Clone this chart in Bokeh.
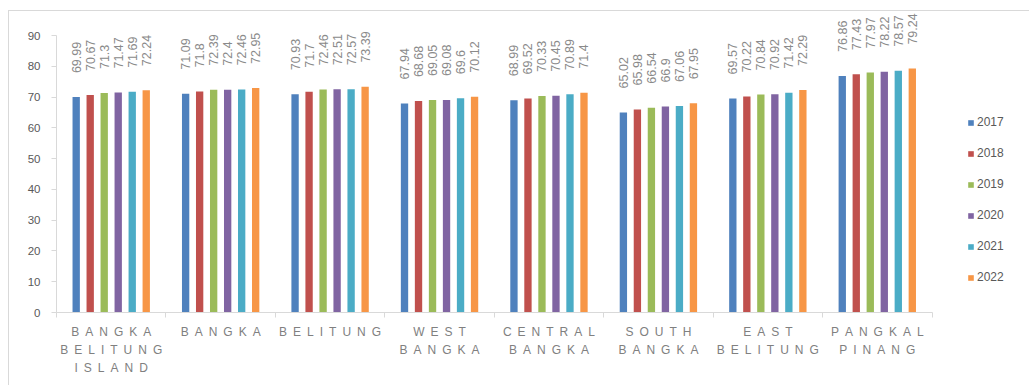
from bokeh.plotting import figure
from bokeh.models import ColumnDataSource, FixedTicker, Legend, LegendItem
from bokeh.transform import dodge
from bokeh.core.properties import value
from bokeh.embed import file_html
from bokeh.resources import INLINE
import math

categories = ["BANGKA\nBELITUNG\nISLAND", "BANGKA", "BELITUNG", "WEST\nBANGKA",
              "CENTRAL\nBANGKA", "SOUTH\nBANGKA", "EAST\nBELITUNG", "PANGKAL\nPINANG"]
years = ["2017", "2018", "2019", "2020", "2021", "2022"]
v2017 = [69.99, 71.09, 70.93, 67.94, 68.99, 65.02, 69.57, 76.86]
v2018 = [70.67, 71.8, 71.7, 68.68, 69.52, 65.98, 70.22, 77.43]
v2019 = [71.3, 72.39, 72.46, 69.05, 70.33, 66.54, 70.84, 77.97]
v2020 = [71.47, 72.4, 72.51, 69.08, 70.45, 66.9, 70.92, 78.22]
v2021 = [71.69, 72.46, 72.57, 69.6, 70.89, 67.06, 71.42, 78.57]
v2022 = [72.24, 72.95, 73.39, 70.12, 71.4, 67.95, 72.29, 79.24]
series = [v2017, v2018, v2019, v2020, v2021, v2022]
colors = ["#4F81BD", "#C0504D", "#9BBB59", "#8064A2", "#4BACC6", "#F79646"]
y_ticks = [0, 10, 20, 30, 40, 50, 60, 70, 80, 90]

FONT = "Liberation Sans"
SP = "\u2002"


def spaced(s):
    return "\n".join(SP.join(list(line)) for line in s.split("\n"))


n = len(categories)
centers = [i + 0.5 for i in range(n)]
data = {"x": centers}
for y, vals in zip(years, series):
    data["v" + y] = vals
    data["t" + y] = [f"{v:g}" for v in vals]
src = ColumnDataSource(data)

# frame extends to the right edge so the legend is not clipped; axis stops at n
p = figure(width=1021, height=375, x_range=(0, 8.9), y_range=(0, 97.8),
           output_backend="svg", toolbar_location=None,
           min_border_left=47, min_border_right=0, min_border_top=0, min_border_bottom=74,
           margin=(10, 0, 0, 8),
           styles={"border-top": "1px solid #d9d9d9", "border-left": "1px solid #d9d9d9",
                   "box-sizing": "border-box"})
p.outline_line_color = None
p.xgrid.visible = False
p.ygrid.visible = False

step = 0.128
width = 0.067
items = []
for k, (y, c) in enumerate(zip(years, colors)):
    off = (k - 2.5) * step
    r = p.vbar(x=dodge("x", off, range=p.x_range), top="v" + y, width=width,
               source=src, fill_color=c, line_color=None)
    p.text(x=dodge("x", off, range=p.x_range), y=dodge("v" + y, 7.8, range=p.y_range),
           text="t" + y, source=src,
           angle=math.pi / 2, text_align="left", text_baseline="middle",
           text_font=value(FONT), text_font_size="12.5px",
           text_color="#8a8a8a")
    items.append(LegendItem(label=y, renderers=[r]))

legend = Legend(items=items, location=(911, 25), padding=0, margin=0,
                border_line_color=None, background_fill_alpha=0,
                glyph_width=7, glyph_height=7, label_height=20, spacing=11,
                label_standoff=3, label_text_font=FONT, label_text_font_size="12px",
                label_text_color="#595959")
p.add_layout(legend, "center")

xa = p.xaxis[0]
xa.bounds = (0, n)
xa.ticker = FixedTicker(ticks=centers, minor_ticks=list(range(n + 1)))
xa.major_label_overrides = {c: spaced(t) for c, t in zip(centers, categories)}
xa.major_tick_out = 0
xa.major_tick_in = 0
xa.minor_tick_out = 5
xa.minor_tick_in = 0
xa.minor_tick_line_color = "#d9d9d9"
xa.axis_line_color = "#d9d9d9"
xa.major_label_text_font = FONT
xa.major_label_text_font_size = "12px"
xa.major_label_text_color = "#808080"
xa.major_label_text_line_height = 1.3
xa.major_label_standoff = 7

ya = p.yaxis[0]
ya.ticker = FixedTicker(ticks=y_ticks)
ya.bounds = (0, 90)
ya.major_tick_out = 5
ya.major_tick_in = 0
ya.minor_tick_out = 0
ya.minor_tick_in = 0
ya.major_tick_line_color = "#d9d9d9"
ya.axis_line_color = "#d9d9d9"
ya.major_label_text_font = FONT
ya.major_label_text_font_size = "11.5px"
ya.major_label_text_color = "#595959"
ya.major_label_standoff = 11

open("out.html", "w").write(file_html(p, INLINE))
